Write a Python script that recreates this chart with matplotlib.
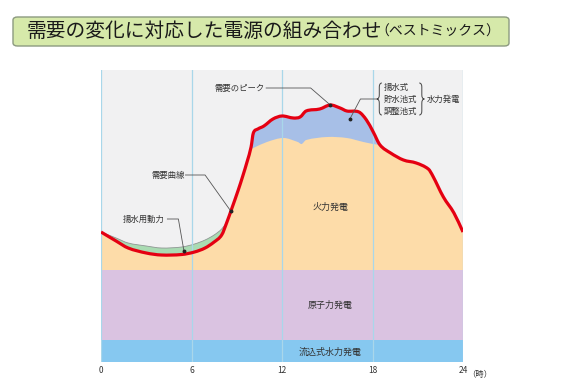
import numpy as np
import matplotlib.pyplot as plt
from matplotlib.patches import FancyBboxPatch, PathPatch
from matplotlib.path import Path

plt.rcParams['font.family'] = ['Noto Sans CJK JP', 'DejaVu Sans']

# demand curve (hour, level)
hours = [0, 1, 1.8, 3, 4, 5.35, 6.2, 6.9, 7.5, 8.0, 8.35, 8.66, 9.1, 9.4, 9.7, 9.95, 10.1,
         10.4, 10.8, 11.4, 12.0, 12.75, 13.2, 13.6, 14.5, 15.2, 15.85, 16.3, 17.1, 17.6,
         18.05, 18.5, 19.2, 20.05, 20.9, 21.7, 22.0, 22.7, 23.4, 24.0]
demand = [130, 121, 114, 109, 107, 107.5, 110, 114, 120, 127, 140, 153, 172, 186, 201, 215, 229,
          233, 236, 243, 246, 244, 245, 251, 253, 257, 254, 251, 250, 242,
          230, 217, 209, 202, 199, 193, 186, 165, 149, 130]

# supply incl. pumping power at night
pump_hours = [0, 1, 1.8, 3, 4, 5.35, 6.2, 6.9, 7.5, 8.0, 8.35]
pump_top = [130, 124, 119, 116, 114, 115, 118, 122, 127, 133, 140]

# thermal top during the day (hydro peak sits above)
therm_hours = [9.95, 10.1, 11.0, 12.1, 13.05, 13.3, 13.6, 15.0, 16.3, 17.4, 18.05, 18.5]
therm_top = [213, 214, 220, 224, 220, 218, 222, 225, 224, 220, 218, 217]

ror_level = 22       # run-of-river hydro
nuclear_level = 92   # nuclear


def segments(xs, ys):
    # cubic bezier pieces through the points (hermite in x)
    xs = np.asarray(xs, float)
    ys = np.asarray(ys, float)
    n = len(xs)
    m = np.zeros(n)
    m[0] = (ys[1] - ys[0]) / (xs[1] - xs[0])
    m[-1] = (ys[-1] - ys[-2]) / (xs[-1] - xs[-2])
    m[1:-1] = (ys[2:] - ys[:-2]) / (xs[2:] - xs[:-2])
    segs = []
    for i in range(n - 1):
        dx = xs[i + 1] - xs[i]
        segs.append(((xs[i], ys[i]),
                     (xs[i] + dx / 3, ys[i] + m[i] * dx / 3),
                     (xs[i + 1] - dx / 3, ys[i + 1] - m[i + 1] * dx / 3),
                     (xs[i + 1], ys[i + 1])))
    return segs


def forward(segs, a, b):
    v = [segs[a][0]]
    for s in segs[a:b]:
        v += [s[1], s[2], s[3]]
    return v, [Path.CURVE4] * (len(v) - 1)


def backward(segs, a, b):
    v = []
    for s in segs[a:b][::-1]:
        v += [s[2], s[1], s[0]]
    return v, [Path.CURVE4] * len(v)


fig = plt.figure(figsize=(5.69, 3.82), dpi=100)
ax = fig.add_axes([101/569, 20/382, 362/569, 292/382])
ax.set_facecolor('#f1f1f2')
ax.set_xlim(0, 24)
ax.set_ylim(0, 292)

dseg = segments(hours, demand)
pseg = segments(pump_hours, pump_top)
tseg = segments(therm_hours, therm_top)
nd = len(hours) - 1

ax.fill_between([0, 24], 0, ror_level, color='#86c8f0', lw=0)
ax.fill_between([0, 24], ror_level, nuclear_level, color='#dac3e1', lw=0)

# thermal (orange) up to demand
v, c = forward(dseg, 0, nd)
v = [(0, nuclear_level)] + v + [(24, nuclear_level), (0, nuclear_level)]
c = [Path.MOVETO, Path.LINETO] + c + [Path.LINETO, Path.CLOSEPOLY]
ax.add_patch(PathPatch(Path(v, c), facecolor='#fddca9', lw=0))

# pumping (green)
ip = hours.index(pump_hours[-1])
v1, c1 = forward(dseg, 0, ip)
v2, c2 = backward(pseg, 0, len(pump_hours) - 1)
ax.add_patch(PathPatch(Path(v1 + v2, [Path.MOVETO] + c1 + c2), facecolor='#a9dbb2', lw=0))
v, c = forward(pseg, 0, len(pump_hours) - 1)
ax.add_patch(PathPatch(Path(v, [Path.MOVETO] + c), fill=False, edgecolor='#8f9694', lw=0.6))

# hydro peak (blue)
i0 = hours.index(therm_hours[0])
i1 = hours.index(therm_hours[-1])
v1, c1 = forward(dseg, i0, i1)
v2, c2 = backward(tseg, 0, len(therm_hours) - 1)
ax.add_patch(PathPatch(Path(v1 + v2, [Path.MOVETO] + c1 + c2), facecolor='#a7bfe7', lw=0))

for h in [0, 6, 12, 18, 24]:
    ax.axvline(h, color='#a9d7ea', lw=0.9)

# demand line
v, c = forward(dseg, 0, nd)
ax.add_patch(PathPatch(Path(v, [Path.MOVETO] + c), fill=False, edgecolor='#e50012',
                       lw=2.3, capstyle='butt', joinstyle='round', zorder=5))

for s in ax.spines.values():
    s.set_visible(False)
ax.set_yticks([])
ax.set_xticks([0, 6, 12, 18, 24])
ax.set_xticklabels(['0', '6', '12', '18', '24'], fontsize=6, color='#333333')
ax.tick_params(axis='x', length=0, pad=3)
ax.text(24.3, -8, '（時）', fontsize=6, color='#333333', ha='left', va='top')

tc = '#333333'
ax.text(15.2, 155, '火力発電', fontsize=6.5, color=tc, ha='center', va='center')
ax.text(15.2, 57, '原子力発電', fontsize=6.5, color=tc, ha='center', va='center')
ax.text(15.2, 10, '流込式水力発電', fontsize=6.5, color=tc, ha='center', va='center')

lc = '#555555'
# 需要のピーク
ax.text(7.5, 274, '需要のピーク', fontsize=6, color=tc, ha='left', va='center')
ax.plot([10.95, 13.9, 15.2], [274, 274, 257], color=lc, lw=0.6, zorder=6)
ax.plot([15.2], [257], 'o', color='#222222', ms=1.8, zorder=7)
# 需要曲線
ax.text(3.35, 187, '需要曲線', fontsize=6, color=tc, ha='left', va='center')
ax.plot([5.6, 6.9, 8.6], [187, 187, 151], color=lc, lw=0.6, zorder=6)
ax.plot([8.6], [151], 'o', color='#222222', ms=1.8, zorder=7)
# 揚水用動力
ax.text(1.45, 143, '揚水用動力', fontsize=6, color=tc, ha='left', va='center')
ax.plot([4.4, 5.13, 5.5], [143, 143, 111], color=lc, lw=0.6, zorder=6)
ax.plot([5.5], [111], 'o', color='#222222', ms=1.8, zorder=7)
# hydro bracket
ax.plot([18.25, 17.2, 16.5], [263, 263, 243], color=lc, lw=0.6, zorder=6)
ax.plot([16.5], [243], 'o', color='#222222', ms=1.8, zorder=7)


def brace(x_tip, x_spine, x_mid, top, bot):
    mid = (top + bot) / 2
    verts = [(x_tip, top), (x_spine, top), (x_spine, top - 4),
             (x_spine, mid + 4), (x_spine, mid), (x_mid, mid),
             (x_spine, mid), (x_spine, mid - 4),
             (x_spine, bot + 4), (x_spine, bot), (x_tip, bot)]
    codes = [Path.MOVETO, Path.CURVE3, Path.CURVE3,
             Path.LINETO, Path.CURVE3, Path.CURVE3,
             Path.CURVE3, Path.CURVE3,
             Path.LINETO, Path.CURVE3, Path.CURVE3]
    ax.add_patch(PathPatch(Path(verts, codes), fill=False, edgecolor='#444444',
                           lw=0.7, zorder=6, clip_on=False))


brace(18.62, 18.45, 18.28, 279, 247)
brace(21.1, 21.27, 21.44, 279, 247)
ax.text(18.75, 275, '揚水式', fontsize=6, color=tc, ha='left', va='center')
ax.text(18.75, 263, '貯水池式', fontsize=6, color=tc, ha='left', va='center')
ax.text(18.75, 251, '調整池式', fontsize=6, color=tc, ha='left', va='center')
ax.text(21.6, 263, '水力発電', fontsize=6, color=tc, ha='left', va='center')

# title box
box = FancyBboxPatch((13/569, 1 - 46/382), 496/569, 29/382,
                     boxstyle='round,pad=0,rounding_size=0.008',
                     transform=fig.transFigure, facecolor='#d6e9aa',
                     edgecolor='#8c9a80', lw=1.0)
fig.add_artist(box)
fig.text(27/569, 1 - 31.5/382, '需要の変化に対応した電源の組み合わせ', fontsize=14.2,
         color='#1a1a1a', ha='left', va='center')
fig.text(375/569, 1 - 31.5/382, '（ベストミックス）', fontsize=10,
         color='#1a1a1a', ha='left', va='center')

fig.savefig('out.png', dpi=100)
plt.close()
